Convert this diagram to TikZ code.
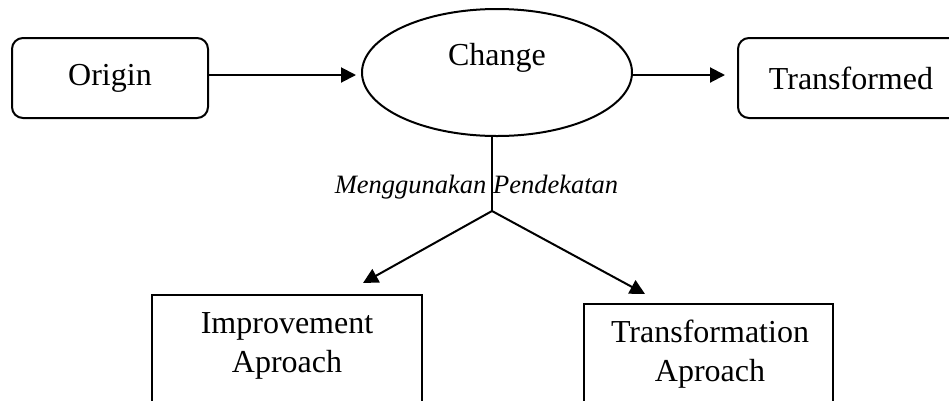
\documentclass[tikz,border=0pt]{standalone}
\usepackage{fontspec}
\setmainfont{Liberation Serif}
\usetikzlibrary{shapes.geometric,arrows.meta,calc}

\tikzset{
  every node/.style={font=\fontsize{32}{39}\selectfont},
  line/.style={line width=2pt},
  arr/.style={line, -{Triangle[length=15pt,width=15pt]}},
  roundbox/.style={draw, line width=2pt, rounded corners=11pt, inner sep=0pt},
  plainbox/.style={draw, line width=2pt, inner sep=0pt},
  oval/.style={draw, ellipse, line width=2pt, inner sep=0pt,
               minimum width=270pt, minimum height=127pt},
  caption/.style={font=\fontsize{26.5}{30}\selectfont\itshape, inner sep=0pt}
}

\begin{document}
\begin{tikzpicture}[x=1pt,y=-1pt]
  \useasboundingbox (0,0) rectangle (949,400);
  \clip (0,0) rectangle (949,400);

  % top row
  \node[roundbox, minimum width=196pt, minimum height=80pt] (org) at (110,78) {Origin};
  \node[oval] (chg) at (497,72.5) {};
  \node[anchor=base, inner sep=0pt] (chgtxt) at (497,65) {Change};
  \node[roundbox, minimum width=226pt, minimum height=80pt] (trf) at (851,78) {Transformed};

  \draw[arr, shorten >=5pt] ([yshift=3pt]org.east) -- ([yshift=3pt]org.east -| chg.west);
  \draw[arr, shorten >=12pt] ([yshift=3pt]trf.west -| chg.east) -- ([yshift=3pt]trf.west);

  % branching to the two approaches
  \coordinate (jn) at (492,211);
  \coordinate (tipL) at (363,283);
  \coordinate (tipR) at (645,294);

  \node[caption, anchor=base] (cap) at (476.5,193) {Menggunakan Pendekatan};

  \draw[line] (chg.south -| jn) -- (jn);
  \draw[arr] (jn) -- (tipL);
  \draw[arr] (jn) -- (tipR);

  % bottom boxes
  \node[plainbox, anchor=north, minimum width=270pt, minimum height=140pt] (imp) at (287,294) {};
  \node[plainbox, anchor=north, minimum width=249pt, minimum height=140pt] (tfa) at (708.5,303) {};

  % base anchor sits on the last line
  \node[anchor=base, align=center, inner sep=0pt] (imptxt) at (287,372) {Improvement\\Aproach};
  \node[anchor=base, align=center, inner sep=0pt] (tfatxt) at (710,381) {Transformation\\Aproach};
\end{tikzpicture}
\end{document}
